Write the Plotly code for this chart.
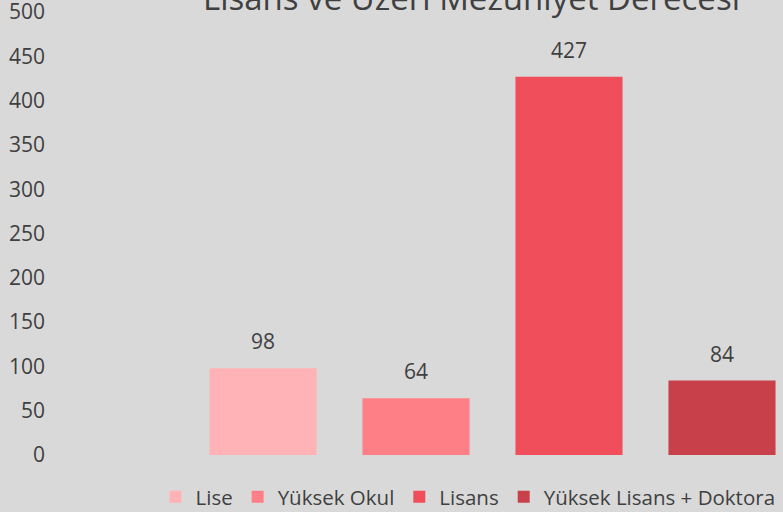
import plotly.graph_objects as go

categories = ["Lise", "Yüksek Okul", "Lisans", "Yüksek Lisans + Doktora"]
values = [98, 64, 427, 84]
positions = [1, 2, 3, 4]
colors = ["#FFB3B7", "#FF7F86", "#F04E5A", "#C8404A"]
y_ticks = [0, 50, 100, 150, 200, 250, 300, 350, 400, 450, 500]
title_text = "Lisans ve Üzeri Mezuniyet Derecesi"

FONT = "Open Sans"
TXT = "#404040"

fig = go.Figure()
for cat, val, pos, col in zip(categories, values, positions, colors):
    fig.add_trace(go.Bar(
        x=[pos], y=[val], name=cat, width=0.70,
        marker=dict(color=col, line=dict(width=0)),
        cliponaxis=False,
    ))
    fig.add_annotation(x=pos, y=val, text=str(val), showarrow=False,
                       yanchor="bottom", yshift=11,
                       font=dict(family=FONT, size=21, color=TXT))

L = 50
fig.update_layout(
    width=783, height=512,
    paper_bgcolor="#D9D9D9", plot_bgcolor="#D9D9D9",
    margin=dict(l=L, r=0, t=12, b=57, pad=0, autoexpand=False),
    showlegend=True,
    legend=dict(orientation="h", xref="container", yref="container",
                x=468 / 783, xanchor="center", y=(512 - 497) / 512, yanchor="middle",
                font=dict(family=FONT, size=20.5, color=TXT),
                bgcolor="rgba(0,0,0,0)", itemclick=False),
    font=dict(family=FONT, color=TXT),
)
fig.update_xaxes(range=[(L - 110) / 153, (783 - 110) / 153], showticklabels=False,
                 showgrid=False, zeroline=False, showline=False, ticks="")
fig.update_yaxes(range=[0, 500], tickvals=y_ticks, showgrid=False, zeroline=False,
                 showline=False, ticks="", ticklabeloverflow="allow", ticklabelstandoff=4,
                 tickfont=dict(family=FONT, size=21, color=TXT))
fig.add_annotation(text=title_text, xref="paper", yref="paper", x=(471 - L) / (783 - L),
                   y=(455 + 2.5) / 443, xanchor="center", yanchor="middle", showarrow=False,
                   font=dict(family=FONT, size=33, color=TXT))
fig.write_html("out.html", config={"displayModeBar": False},
               post_script="document.body.style.margin='0';document.body.style.padding='0';document.body.style.overflow='hidden';")
